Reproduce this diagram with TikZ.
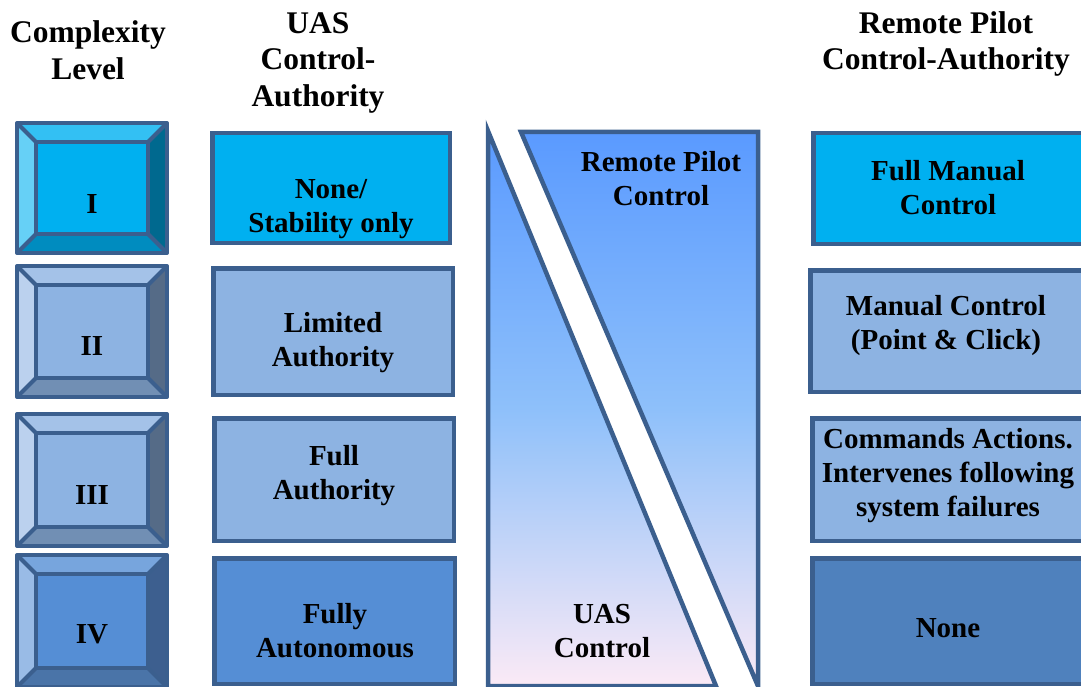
\documentclass[tikz,border=0pt]{standalone}
\usepackage{fontspec}
\setmainfont{Liberation Serif}
\usetikzlibrary{calc}

\definecolor{edge}{HTML}{3B5F8E}
\definecolor{faceI}{HTML}{00B0F0}
\definecolor{topI}{HTML}{33C0F3}
\definecolor{leftI}{HTML}{66D0F6}
\definecolor{rightI}{HTML}{00698F}
\definecolor{botI}{HTML}{008CBF}
\definecolor{faceII}{HTML}{8DB3E2}
\definecolor{topII}{HTML}{A4C2E8}
\definecolor{leftII}{HTML}{BBD1EE}
\definecolor{rightII}{HTML}{556B87}
\definecolor{botII}{HTML}{718FB4}
\colorlet{faceIII}{faceII}
\colorlet{topIII}{topII}
\colorlet{leftIII}{leftII}
\colorlet{rightIII}{rightII}
\colorlet{botIII}{botII}
\definecolor{faceIV}{HTML}{558ED5}
\definecolor{topIV}{HTML}{77A5DD}
\definecolor{leftIV}{HTML}{99BBE6}
\definecolor{rightIV}{HTML}{3D5F8F}
\definecolor{botIV}{HTML}{4A74A8}
\definecolor{nonebox}{HTML}{4F81BD}
\definecolor{gtop}{HTML}{5A9AFF}
\definecolor{gmid}{HTML}{8EC0FA}
\definecolor{gbot}{HTML}{FBEAF6}

\begin{document}
\begin{tikzpicture}[x=1pt,y=-1pt,
		headtext/.style={font=\fontsize{31.5}{36.5}\selectfont\bfseries, align=center, inner sep=0pt},
		boxtext/.style={font=\fontsize{29}{34}\selectfont\bfseries, align=center, inner sep=0pt},
		ctlbox/.style={draw=edge, line width=4.5pt, inner sep=0pt},
		bevel/.style={draw=edge, line width=4pt, line join=round}]
		\useasboundingbox (0,0) rectangle (1081,687);

		% Column headers.
		\node[headtext] (hlevel) at (88,50) {Complexity\\Level};
		\node[headtext] (huas) at (318,62.5) {UAS\\Control-\\Authority};
		\node[headtext] (hpilot) at (946,44) {Remote Pilot\\Control-Authority};

		% Complexity levels as bevelled buttons.
		\foreach \lv/\ya/\yb/\ym in {I/123/253/204, II/266/397/346, III/414/546/495, IV/555/687/634}{
			\coordinate (\lv-a) at (17,\ya);
			\coordinate (\lv-b) at (167,\ya);
			\coordinate (\lv-c) at (167,\yb);
			\coordinate (\lv-d) at (17,\yb);
			\coordinate (\lv-e) at ($(\lv-a)+(19,19)$);
			\coordinate (\lv-f) at ($(\lv-b)+(-19,19)$);
			\coordinate (\lv-g) at ($(\lv-c)+(-19,-19)$);
			\coordinate (\lv-h) at ($(\lv-d)+(19,-19)$);
			\fill[top\lv] (\lv-a) -- (\lv-b) -- (\lv-f) -- (\lv-e) -- cycle;
			\fill[right\lv] (\lv-b) -- (\lv-c) -- (\lv-g) -- (\lv-f) -- cycle;
			\fill[bot\lv] (\lv-c) -- (\lv-d) -- (\lv-h) -- (\lv-g) -- cycle;
			\fill[left\lv] (\lv-d) -- (\lv-a) -- (\lv-e) -- (\lv-h) -- cycle;
			\fill[face\lv] (\lv-e) rectangle (\lv-g);
			\draw[bevel] (\lv-a) rectangle (\lv-c);
			\draw[bevel] (\lv-e) rectangle (\lv-g);
			\draw[bevel] (\lv-a) -- (\lv-e) (\lv-b) -- (\lv-f) (\lv-c) -- (\lv-g) (\lv-d) -- (\lv-h);
			\node[boxtext] (lv\lv) at (92,\ym) {\lv};
		}

		% UAS control-authority.
		\node[ctlbox, fill=faceI, minimum width=237.5pt, minimum height=109.5pt] (uasI) at (331,188) {};
		\node[ctlbox, fill=faceII, minimum width=239.5pt, minimum height=126.5pt] (uasII) at (333,331.5) {};
		\node[ctlbox, fill=faceIII, minimum width=239.5pt, minimum height=122.5pt] (uasIII) at (334,479.5) {};
		\node[ctlbox, fill=faceIV, minimum width=240.5pt, minimum height=125.5pt] (uasIV) at (334.5,621) {};
		\node[boxtext] (tuasI) at (331,209) {None/\\Stability only};
		\node[boxtext] (tuasII) at (333,343) {Limited\\Authority};
		\node[boxtext] (tuasIII) at (334,476) {Full\\Authority};
		\node[boxtext] (tuasIV) at (335,630.5) {Fully\\Autonomous};

		% Split between the two kinds of control.
		\shade[top color=gtop, bottom color=gbot, middle color=gmid, draw=edge, line width=4.5pt]
			(488,131) -- (488,686) -- (716,686) -- cycle;
		\shade[top color=gtop, bottom color=gbot, middle color=gmid, draw=edge, line width=4.5pt]
			(521,132) -- (758,132) -- (758,686) -- cycle;
		\node[boxtext] (trpc) at (661,179) {Remote Pilot\\Control};
		\node[boxtext] (tuasc) at (602,631) {UAS\\Control};

		% Remote pilot control-authority.
		\node[ctlbox, fill=faceI, minimum width=274.5pt, minimum height=110.5pt] (rpI) at (950.5,188.5) {};
		\node[ctlbox, fill=faceII, minimum width=277.5pt, minimum height=121.5pt] (rpII) at (949,331) {};
		\node[ctlbox, fill=faceIII, minimum width=275.5pt, minimum height=122.5pt] (rpIII) at (950,479.5) {};
		\node[ctlbox, fill=nonebox, minimum width=275.5pt, minimum height=125.5pt] (rpIV) at (950,621) {};
		\node[boxtext] (trpI) at (948,188) {Full Manual\\Control};
		\node[boxtext] (trpII) at (946,326) {Manual Control\\(Point \& Click)};
		\node[boxtext] (trpIII) at (948,476) {Commands Actions.\\Intervenes following\\system failures};
		\node[boxtext] (trpIV) at (948,628) {None};
	\end{tikzpicture}
\end{document}
